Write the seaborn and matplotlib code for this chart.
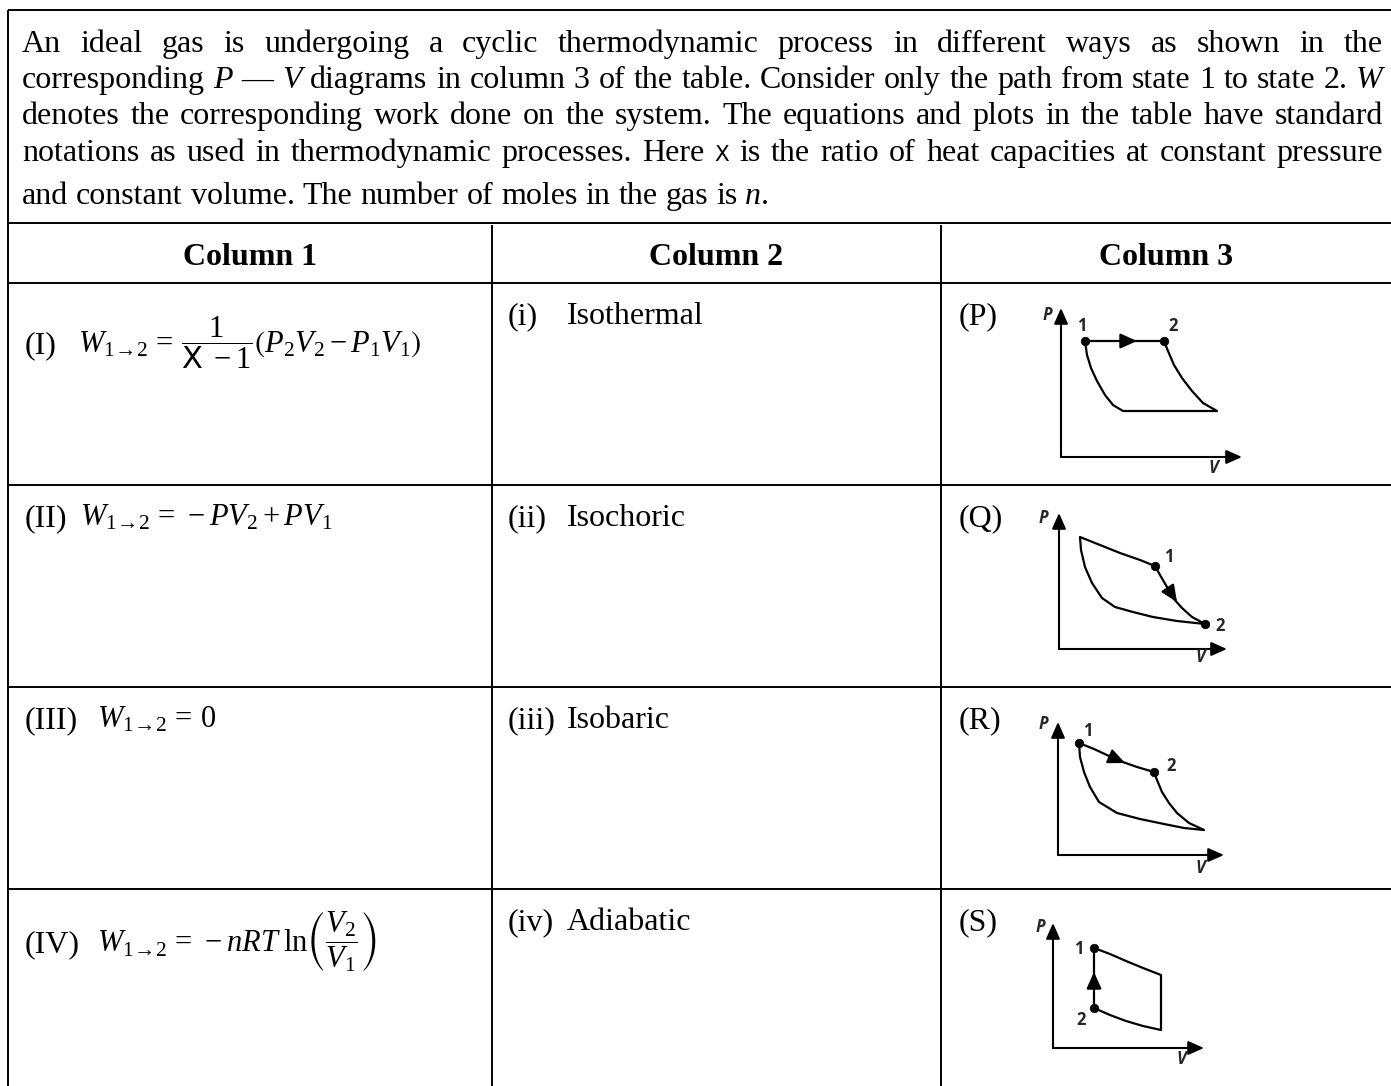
import re
import matplotlib
matplotlib.use("Agg")
import matplotlib.pyplot as plt
import seaborn as sns
from matplotlib.lines import Line2D

# ---------------- data ----------------
para_lines = [
    "An ideal gas is undergoing a cyclic thermodynamic process in different ways as shown in the",
    "corresponding *P* — *V* diagrams in column 3 of the table. Consider only the path from state 1 to state 2. *W*",
    "denotes the corresponding work done on the system. The equations and plots in the table have standard",
    "notations as used in thermodynamic processes. Here ~X~ is the ratio of heat capacities at constant pressure",
    "and constant volume. The number of moles in the gas is *n*.",
]
headers = ["Column 1", "Column 2", "Column 3"]
col1_labels = ["(I)", "(II)", "(III)", "(IV)"]
col1_formulas = [
    r"$W_{1\!\rightarrow\!2}\,=\,\dfrac{1}{\mathsf{X}\ -1}\left(P_2V_2 - P_1V_1\right)$",
    r"$W_{1\!\rightarrow\!2}\,=\,-PV_2 + PV_1$",
    r"$W_{1\!\rightarrow\!2}\,=\,0$",
    r"$W_{1\!\rightarrow\!2}\,=\,-nRT\;\mathrm{ln}\left(\dfrac{V_2}{V_1}\right)$",
]
col2_labels = ["(i)", "(ii)", "(iii)", "(iv)"]
col2_names = ["Isothermal", "Isochoric", "Isobaric", "Adiabatic"]
col3_labels = ["(P)", "(Q)", "(R)", "(S)"]

# P-V cycles (V, P in diagram units), states 1 and 2, arrow (tail, tip)
P_cycle_V = [24, 103, 107, 113, 121, 131, 142, 156, 62, 52, 44, 36, 30, 26, 24]
P_cycle_P = [116, 116, 106, 92, 79, 66, 54, 46, 46, 52, 62, 76, 89, 102, 116]
P_states_V = [24, 103]
P_states_P = [116, 116]
P_arrow_V = [60, 76]
P_arrow_P = [116, 116]

Q_cycle_V = [96, 101, 108, 114, 123, 133, 146, 118, 94, 74, 56, 43, 33, 26, 22, 21, 41, 61, 81, 96]
Q_cycle_P = [83, 74, 62, 51, 41, 32, 25, 28, 32, 37, 42, 51, 66, 82, 99, 112, 104, 96, 89, 83]
Q_states_V = [96, 146]
Q_states_P = [83, 25]
Q_arrow_V = [108, 118]
Q_arrow_P = [62, 47]

R_cycle_V = [21, 36, 51, 62, 79, 96, 99, 104, 111, 119, 131, 146, 126, 106, 82, 59, 41, 32, 26, 22, 21]
R_cycle_P = [112, 106, 99, 94, 88, 83, 75, 63, 52, 42, 32, 25, 27, 31, 36, 42, 53, 68, 83, 98, 112]
R_states_V = [21, 96]
R_states_P = [112, 83]
R_arrow_V = [51, 67]
R_arrow_P = [99, 92]

S_cycle_V = [41, 57, 73, 90, 108, 108, 90, 73, 57, 41, 41]
S_cycle_P = [100, 94, 87, 80, 73, 18, 22, 27, 33, 40, 100]
S_states_V = [41, 41]
S_states_P = [100, 40]
S_arrow_V = [41, 41]
S_arrow_P = [60, 76]

diagrams = [
    (P_cycle_V, P_cycle_P, P_states_V, P_states_P, P_arrow_V, P_arrow_P),
    (Q_cycle_V, Q_cycle_P, Q_states_V, Q_states_P, Q_arrow_V, Q_arrow_P),
    (R_cycle_V, R_cycle_P, R_states_V, R_states_P, R_arrow_V, R_arrow_P),
    (S_cycle_V, S_cycle_P, S_states_V, S_states_P, S_arrow_V, S_arrow_P),
]

# ---------------- layout (pixels) ----------------
W, H = 1391, 1086
DPI = 100
BODY_FS = 23
MATH_FS = 22
X_FS = 15.5
para_x0, para_x1 = 22, 1383
para_baselines = [52, 88, 124, 161, 204]
row_tops = [283, 485, 687, 889]
col_edges = [8, 492, 941, 1391]
f1_x = [78, 80, 97, 97]
f1_base = [353, 526, 728, 952]
diag_origin = [(1061, 457), (1059, 649), (1058, 855), (1053, 1048)]
diag_ptip = [149, 136, 133, 125]
diag_vtip = [181, 168, 166, 151]
diag_lbl = [
    {"P": (-14, 142), "V": (152, -11), "1": (21, 131), "2": (112, 131)},
    {"P": (-16, 131), "V": (141, -8), "1": (110, 92), "2": (161, 23)},
    {"P": (-15, 131), "V": (142, -13), "1": (30, 124), "2": (113, 89)},
    {"P": (-13, 121), "V": (128, -11), "1": (26, 99), "2": (28, 28)},
]

sns.set_theme(style="white")
plt.rcParams["font.family"] = ["Liberation Serif", "DejaVu Sans"]
plt.rcParams["mathtext.fontset"] = "custom"
plt.rcParams["mathtext.rm"] = "Liberation Serif"
plt.rcParams["mathtext.it"] = "Liberation Serif:italic"
plt.rcParams["mathtext.bf"] = "Liberation Serif:bold"
plt.rcParams["mathtext.sf"] = "DejaVu Sans"
plt.rcParams["mathtext.fallback"] = "stix"

fig = plt.figure(figsize=(W / DPI, H / DPI), dpi=DPI)
fig.patch.set_facecolor("white")
renderer = fig.canvas.get_renderer()


def fx(x):
    return x / W


def fy(y):
    return 1 - y / H


def hline(y, x0, x1):
    fig.add_artist(Line2D([fx(x0), fx(x1)], [fy(y), fy(y)], transform=fig.transFigure,
                          color="black", lw=1.4, solid_capstyle="butt"))


def vline(x, y0, y1):
    fig.add_artist(Line2D([fx(x), fx(x)], [fy(y0), fy(y1)], transform=fig.transFigure,
                          color="black", lw=1.4, solid_capstyle="butt"))


def txt(x, y, s, **kw):
    kw.setdefault("fontsize", BODY_FS)
    return fig.text(fx(x), fy(y), s, va="baseline", ha=kw.pop("ha", "left"), color="black", **kw)


# ---------------- borders ----------------
hline(10, 8, W)
hline(223, 8, W)
for yt in row_tops:
    hline(yt, 8, W)
vline(8, 10, H)
for xc in col_edges[1:3]:
    vline(xc, 225, H)

# ---------------- paragraph ----------------
def draw_line(line, y, justify):
    items = []
    total = 0.0
    for w in line.split(" "):
        parts = [p for p in re.split(r"(\*[^*]+\*|~[^~]+~)", w) if p]
        ts = []
        wsum = 0.0
        for p in parts:
            if p.startswith("*"):
                t = txt(0, y, p[1:-1], style="italic")
            elif p.startswith("~"):
                t = txt(0, y, p[1:-1], family=["DejaVu Sans"], fontsize=X_FS)
            else:
                t = txt(0, y, p)
            wd = t.get_window_extent(renderer).width
            ts.append((t, wd))
            wsum += wd
        items.append((ts, wsum))
        total += wsum
    gap = (para_x1 - para_x0 - total) / (len(items) - 1) if justify else BODY_FS * DPI / 72 * 0.25
    x = para_x0
    for ts, wsum in items:
        xx = x
        for t, wd in ts:
            t.set_position((fx(xx), fy(y)))
            xx += wd
        x += wsum + gap


for i, (ln, yb) in enumerate(zip(para_lines, para_baselines)):
    draw_line(ln, yb, justify=(i < len(para_lines) - 1))

# ---------------- header row ----------------
for i, hdr in enumerate(headers):
    cx = (col_edges[i] + col_edges[i + 1]) / 2
    txt(cx, 265, hdr, ha="center", fontweight="bold")

# ---------------- rows ----------------
for i in range(4):
    base = row_tops[i] + 41
    txt(25, f1_base[i] if i in (0, 3) else base, col1_labels[i])
    txt(f1_x[i], f1_base[i], col1_formulas[i], fontsize=MATH_FS)
    txt(508, base, col2_labels[i])
    txt(567, base, col2_names[i])
    txt(959, base, col3_labels[i])

# ---------------- P-V diagrams ----------------
for i, (cv, cp, sv, sp, av, ap) in enumerate(diagrams):
    ox, oy = diag_origin[i]
    left, right, top, bottom = ox - 30, ox + 200, oy - 160, oy + 25
    ax = fig.add_axes([fx(left), fy(bottom), (right - left) / W, (bottom - top) / H])
    ax.set_xlim(-30, 200)
    ax.set_ylim(-25, 160)
    ax.set_axis_off()
    axis_kw = dict(arrowstyle="-|>,head_length=0.95,head_width=0.42", color="black",
                   lw=1.5, mutation_scale=10, shrinkA=0, shrinkB=0)
    ax.annotate("", xy=(0, diag_ptip[i]), xytext=(0, 0), arrowprops=axis_kw, annotation_clip=False)
    ax.annotate("", xy=(diag_vtip[i], 0), xytext=(0, 0), arrowprops=axis_kw, annotation_clip=False)
    sns.lineplot(x=cv, y=cp, sort=False, estimator=None, ax=ax, color="black", lw=1.6)
    sns.scatterplot(x=sv, y=sp, ax=ax, color="black", s=38, edgecolor="black", zorder=5)
    ax.annotate("", xy=(av[1], ap[1]), xytext=(av[0], ap[0]),
                arrowprops=dict(arrowstyle="-|>,head_length=1.0,head_width=0.45", color="black",
                                lw=1.6, mutation_scale=10, shrinkA=0, shrinkB=0))
    lbl = diag_lbl[i]
    for key in ("P", "V"):
        ax.text(*lbl[key], key, ha="center", va="center", fontsize=12, fontweight="bold",
                style="italic", family=["Open Sans", "DejaVu Sans"])
    for key in ("1", "2"):
        ax.text(*lbl[key], key, ha="center", va="center", fontsize=12, fontweight="bold",
                family=["Open Sans", "DejaVu Sans"])

fig.savefig("out.png", dpi=DPI, facecolor="white")
